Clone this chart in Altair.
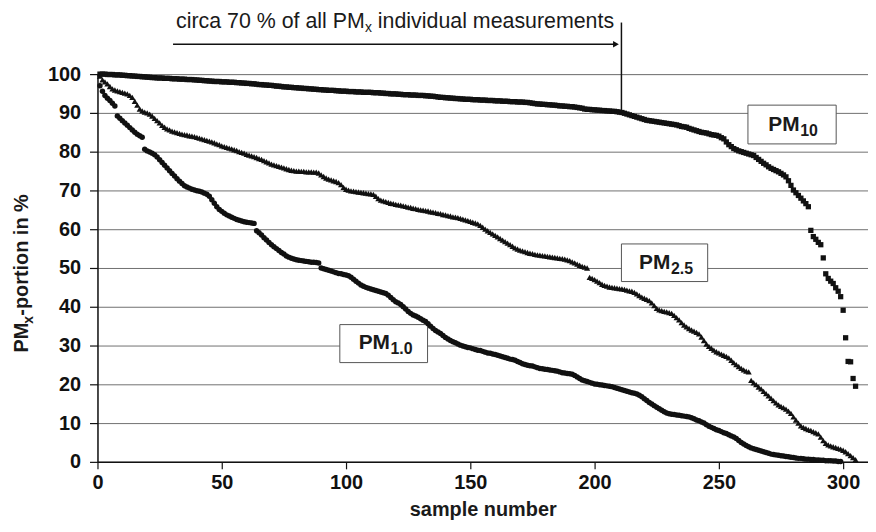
import altair as alt
import pandas as pd

# ---------------- data ----------------
pm10 = [
    100.0, 100.0, 100.0, 99.9, 99.9, 99.9, 99.8, 99.8, 99.8, 99.7,
    99.7, 99.6, 99.6, 99.5, 99.5, 99.4, 99.4, 99.3, 99.3, 99.2,
    99.2, 99.1, 99.1, 99.0, 99.0, 99.0, 98.9, 98.9, 98.9, 98.8,
    98.8, 98.8, 98.7, 98.7, 98.7, 98.6, 98.6, 98.6, 98.5, 98.5,
    98.4, 98.4, 98.3, 98.3, 98.2, 98.2, 98.1, 98.1, 98.1, 98.0,
    98.0, 98.0, 97.9, 97.9, 97.9, 97.8, 97.8, 97.7, 97.7, 97.6,
    97.6, 97.5, 97.5, 97.4, 97.3, 97.3, 97.2, 97.2, 97.1, 97.1,
    97.0, 96.9, 96.9, 96.8, 96.7, 96.7, 96.6, 96.6, 96.5, 96.5,
    96.4, 96.4, 96.3, 96.3, 96.2, 96.2, 96.1, 96.1, 96.0, 96.0,
    95.9, 95.9, 95.8, 95.8, 95.8, 95.7, 95.7, 95.6, 95.6, 95.6,
    95.5, 95.5, 95.5, 95.4, 95.4, 95.4, 95.3, 95.3, 95.3, 95.3,
    95.2, 95.2, 95.2, 95.1, 95.1, 95.0, 95.0, 94.9, 94.9, 94.9,
    94.8, 94.8, 94.7, 94.7, 94.7, 94.6, 94.6, 94.6, 94.5, 94.5,
    94.5, 94.4, 94.4, 94.3, 94.3, 94.2, 94.1, 94.0, 94.0, 93.9,
    93.9, 93.8, 93.8, 93.7, 93.7, 93.6, 93.6, 93.5, 93.5, 93.5,
    93.4, 93.4, 93.4, 93.3, 93.3, 93.3, 93.2, 93.2, 93.2, 93.1,
    93.1, 93.1, 93.0, 93.0, 93.0, 92.9, 92.9, 92.9, 92.8, 92.8,
    92.8, 92.7, 92.7, 92.6, 92.5, 92.4, 92.3, 92.3, 92.2, 92.2,
    92.1, 92.1, 92.0, 92.0, 91.9, 91.8, 91.8, 91.7, 91.7, 91.6,
    91.6, 91.5, 91.4, 91.3, 91.2, 91.0, 90.9, 90.9, 90.8, 90.8,
    90.7, 90.7, 90.6, 90.6, 90.5, 90.5, 90.4, 90.4, 90.3, 90.2,
    90.1, 89.9, 89.7, 89.5, 89.3, 89.1, 88.9, 88.7, 88.5, 88.3,
    88.1, 88.0, 87.9, 87.8, 87.7, 87.6, 87.5, 87.4, 87.3, 87.2,
    87.1, 87.0, 86.9, 86.7, 86.5, 86.4, 86.3, 86.0, 85.8, 85.6,
    85.4, 85.2, 85.0, 84.9, 84.8, 84.6, 84.4, 84.3, 84.2, 84.0,
    83.6, 83.3, 82.5, 81.8, 81.3, 80.8, 80.5, 80.2, 80.0, 79.8,
    79.6, 79.4, 79.2, 79.0, 78.5, 78.0, 77.5, 77.0, 76.6, 76.1,
    75.7, 75.4, 75.1, 74.8, 74.4, 74.0, 73.5, 72.5, 71.3, 70.1,
    69.4, 68.7, 68.0, 67.3, 66.6, 65.8,
    59.7, 58.1, 57.4, 56.6, 56.0, 52.6, 48.5, 47.3, 46.6, 46.0,
    44.9, 44.0, 42.6, 39.1, 32.0, 25.9, 25.8, 21.5, 19.5,
]

pm25 = [
    99.5, 98.5, 98.0, 97.5, 96.8, 96.2, 95.9, 95.7, 95.5, 95.3,
    95.1, 94.9, 94.5, 94.0, 93.0, 92.0, 91.0, 90.5, 90.2, 90.0,
    89.7, 89.2, 88.6, 88.0, 87.4, 86.8, 86.3, 85.9, 85.6, 85.3,
    85.1, 84.9, 84.7, 84.5, 84.4, 84.3, 84.1, 84.0, 83.9, 83.7,
    83.5, 83.3, 83.1, 82.9, 82.7, 82.5, 82.3, 82.0, 81.8, 81.5,
    81.3, 81.1, 80.9, 80.7, 80.5, 80.3, 80.0, 79.8, 79.6, 79.3,
    79.1, 78.9, 78.7, 78.5, 78.2, 78.0, 77.7, 77.4, 77.1, 76.8,
    76.6, 76.4, 76.2, 76.0, 75.8, 75.6, 75.4, 75.2, 75.1, 75.0,
    75.0, 74.9, 74.9, 74.8, 74.8, 74.8, 74.7, 74.7, 74.5, 74.0,
    73.6, 73.2, 72.9, 72.7, 72.5, 72.3, 72.0, 71.5, 70.8, 70.3,
    70.1, 69.9, 69.8, 69.7, 69.6, 69.5, 69.4, 69.3, 69.2, 69.1,
    69.0, 68.5, 67.9, 67.5, 67.3, 67.1, 66.9, 66.7, 66.6, 66.4,
    66.3, 66.2, 66.0, 65.9, 65.7, 65.6, 65.4, 65.3, 65.1, 65.0,
    64.9, 64.8, 64.7, 64.5, 64.4, 64.3, 64.1, 64.0, 63.8, 63.7,
    63.5, 63.4, 63.2, 63.1, 63.0, 62.8, 62.6, 62.4, 62.2, 62.0,
    61.8, 61.6, 61.4, 61.0, 60.5, 60.0, 59.6, 59.2, 58.8, 58.4,
    58.0, 57.6, 57.2, 56.8, 56.4, 56.0, 55.6, 55.2, 54.9, 54.6,
    54.4, 54.2, 54.0, 53.8, 53.7, 53.5, 53.4, 53.3, 53.2, 53.1,
    53.0, 52.9, 52.8, 52.7, 52.6, 52.5, 52.4, 52.3, 52.1, 51.9,
    51.6, 51.3, 51.0, 50.7, 50.4, 50.2, 50.0, 47.6, 47.3, 47.0,
    46.6, 46.2, 45.8, 45.5, 45.3, 45.1, 45.0, 44.9, 44.8, 44.7,
    44.6, 44.5, 44.3, 44.1, 44.0, 43.7, 43.3, 42.9, 42.5, 42.2,
    41.9, 41.6, 41.0, 40.3, 39.6, 39.2, 39.0, 38.8, 38.7, 38.5,
    38.3, 37.8, 37.2, 36.6, 35.9, 35.3, 34.8, 34.4, 34.0, 33.7,
    33.4, 33.0, 32.2, 31.3, 30.4, 29.8, 29.3, 28.8, 28.4, 28.1,
    27.8, 27.5, 27.2, 26.8, 26.2, 25.6, 25.1, 24.6, 24.1, 23.7,
    23.4, 23.2, 21.0, 20.4, 19.9, 19.3, 18.8, 18.2, 17.6, 17.0,
    16.4, 15.8, 15.2, 14.7, 14.3, 14.0, 13.6, 13.1, 12.5, 11.6,
    10.8, 10.0, 9.3, 8.9, 8.6, 8.3, 8.1, 7.8, 7.5, 7.2,
    6.4, 5.5, 4.8, 4.4, 4.1, 3.9, 3.7, 3.5, 3.3, 3.0,
    2.6, 2.1, 1.6, 1.1, 0.6,
]

pm1 = [
    97.0, 95.6, 94.5, 93.8, 93.2, 92.5, 91.8, 89.2, 88.6, 88.0,
    87.4, 86.8, 86.2, 85.6, 85.0, 84.5, 84.1, 83.7, 80.6, 80.2,
    79.9, 79.6, 79.2, 78.6, 77.9, 77.2, 76.5, 75.8, 75.1, 74.4,
    73.7, 73.0, 72.4, 71.8, 71.2, 70.9, 70.6, 70.3, 70.1, 69.9,
    69.8, 69.6, 69.3, 69.0, 68.5, 67.6, 66.7, 65.8, 65.1, 64.6,
    64.1, 63.7, 63.4, 63.1, 62.8, 62.5, 62.3, 62.1, 61.9, 61.8,
    61.7, 61.6, 61.5, 59.6, 59.1, 58.5, 57.8, 57.2, 56.6, 56.0,
    55.5, 55.0, 54.5, 54.0, 53.6, 53.1, 52.8, 52.5, 52.3, 52.1,
    52.0, 51.9, 51.8, 51.7, 51.6, 51.5, 51.5, 51.4, 51.3, 50.0,
    49.8, 49.6, 49.4, 49.2, 49.0, 48.8, 48.6, 48.5, 48.3, 48.2,
    48.0, 47.6, 47.1, 46.6, 46.1, 45.6, 45.3, 45.0, 44.8, 44.6,
    44.4, 44.2, 44.0, 43.8, 43.6, 43.4, 43.0, 42.4, 41.8, 41.3,
    41.0, 40.6, 40.0, 39.4, 38.8, 38.3, 37.9, 37.6, 37.3, 36.9,
    36.5, 36.2, 35.6, 35.0, 34.4, 33.9, 33.5, 33.1, 32.6, 32.1,
    31.7, 31.3, 31.0, 30.7, 30.4, 30.1, 29.9, 29.7, 29.5, 29.4,
    29.2, 29.0, 28.8, 28.7, 28.5, 28.3, 28.1, 28.0, 27.8, 27.7,
    27.5, 27.3, 27.1, 26.9, 26.7, 26.5, 26.4, 26.2, 25.9, 25.6,
    25.3, 25.1, 24.9, 24.8, 24.7, 24.5, 24.3, 24.1, 24.0, 23.9,
    23.8, 23.7, 23.6, 23.5, 23.4, 23.2, 23.0, 22.9, 22.8, 22.7,
    22.6, 22.3, 21.9, 21.5, 21.1, 20.9, 20.7, 20.5, 20.3, 20.1,
    20.0, 19.9, 19.8, 19.7, 19.6, 19.5, 19.4, 19.2, 19.0, 18.8,
    18.6, 18.4, 18.2, 18.0, 17.8, 17.7, 17.5, 17.2, 16.8, 16.3,
    15.8, 15.3, 14.9, 14.5, 14.1, 13.7, 13.3, 12.9, 12.6, 12.4,
    12.3, 12.2, 12.1, 12.0, 11.9, 11.8, 11.7, 11.6, 11.4, 11.1,
    10.8, 10.6, 10.3, 10.0, 9.6, 9.2, 8.9, 8.6, 8.3, 8.1,
    7.8, 7.5, 7.3, 7.0, 6.7, 6.4, 6.0, 5.5, 5.0, 4.6,
    4.2, 3.9, 3.6, 3.4, 3.2, 3.0, 2.8, 2.6, 2.4, 2.2,
    2.0, 1.9, 1.8, 1.7, 1.6, 1.5, 1.4, 1.3, 1.2, 1.1,
    1.0, 0.9, 0.9, 0.8, 0.7, 0.7, 0.6, 0.6, 0.5, 0.5,
    0.4, 0.4, 0.3, 0.3, 0.3, 0.2, 0.2, 0.1, 0.1,
]

x_ticks = [0, 50, 100, 150, 200, 250, 300]
y_ticks = [0, 10, 20, 30, 40, 50, 60, 70, 80, 90, 100]

# label boxes (data coordinates) and their texts
box_names = ["PM10", "PM2.5", "PM1.0"]
box_x0 = [261.7, 210.8, 97.5]
box_x1 = [297.2, 245.5, 132.8]
box_y0 = [82.0, 46.5, 25.6]
box_y1 = [92.0, 56.2, 35.4]
label_main = ["PM", "PM", "PM"]
label_sub = ["10", "2.5", "1.0"]
label_x = [269.9, 217.9, 105.1]
label_y = [85.4, 49.7, 29.0]

# annotation "circa 70 %"
ann_x, ann_y = 31.6, 111.8
arrow_x0, arrow_x1, arrow_y = 30.4, 208.6, 107.7
mark_x, mark_top, mark_bottom = 210.8, 113.3, 90.1


def frame(vals, name):
    return pd.DataFrame({"sample": list(range(1, len(vals) + 1)),
                         "portion": vals, "series": name})


df10, df25, df1 = frame(pm10, "PM10"), frame(pm25, "PM2.5"), frame(pm1, "PM1.0")

FONT = "Liberation Sans"
BLACK = "#111111"

x_scale = alt.Scale(domain=[0, 310], nice=False, zero=False)
y_scale = alt.Scale(domain=[0, 100], nice=False)

x_axis = alt.Axis(values=x_ticks, title="", grid=False, labelFontSize=20,
                  labelFontWeight="bold", labelFont=FONT, labelColor=BLACK,
                  tickSize=7, tickColor=BLACK, domainColor=BLACK,
                  domainWidth=1.5, tickWidth=1.2, labelPadding=4,
                  labelFlush=False, labelOverlap=False)
y_axis = alt.Axis(values=y_ticks, title="", grid=True, gridColor="#707070",
                  gridWidth=1, labelFontSize=20, labelFontWeight="bold",
                  labelFont=FONT, labelColor=BLACK, tickSize=8,
                  tickColor=BLACK, domainColor=BLACK, domainWidth=1.5,
                  tickWidth=1.2, labelPadding=9, labelOverlap=False)


def xq(field):
    return alt.X(field, scale=x_scale, axis=x_axis)


def yq(field):
    return alt.Y(field, scale=y_scale, axis=y_axis)


boxes = pd.DataFrame({"name": box_names, "x0": box_x0, "x1": box_x1,
                      "y0": box_y0, "y1": box_y1})
rects = alt.Chart(boxes).mark_rect(fill="white", stroke="#555555",
                                   strokeWidth=1).encode(
    x=xq("x0:Q"), x2="x1:Q", y=yq("y0:Q"), y2="y1:Q")

p10 = alt.Chart(df10).mark_point(shape="square", filled=True, size=28,
                                 color=BLACK, opacity=1).encode(
    x=xq("sample:Q"), y=yq("portion:Q"))
p25 = alt.Chart(df25).mark_point(shape="triangle-up", filled=True, size=38,
                                 color=BLACK, opacity=1).encode(
    x=xq("sample:Q"), y=yq("portion:Q"))
p1 = alt.Chart(df1).mark_point(shape="circle", filled=True, size=30,
                               color=BLACK, opacity=1).encode(
    x=xq("sample:Q"), y=yq("portion:Q"))

labels = pd.DataFrame({"main": label_main, "sub": label_sub,
                       "lx": label_x, "ly": label_y})
lab_main = alt.Chart(labels).mark_text(font=FONT, fontSize=21,
                                       fontWeight="bold", align="left",
                                       baseline="alphabetic",
                                       color="#1a1a1a").encode(
    x=xq("lx:Q"), y=yq("ly:Q"), text="main:N")
lab_sub = alt.Chart(labels).mark_text(font=FONT, fontSize=16,
                                      fontWeight="bold", align="left",
                                      baseline="alphabetic", dx=32, dy=5,
                                      color="#1a1a1a").encode(
    x=xq("lx:Q"), y=yq("ly:Q"), text="sub:N")

ann = pd.DataFrame({"ax": [ann_x], "ay": [ann_y],
                    "t1": ["circa 70 % of all PM"], "t2": ["x"],
                    "t3": ["individual measurements"],
                    "rx0": [arrow_x0], "rx1": [arrow_x1], "ry": [arrow_y],
                    "vx": [mark_x], "vt": [mark_top], "vb": [mark_bottom]})
ann_t1 = alt.Chart(ann).mark_text(font=FONT, fontSize=21.5, align="left",
                                  baseline="alphabetic", color="#1a1a1a").encode(
    x=xq("ax:Q"), y=yq("ay:Q"), text="t1:N")
ann_t2 = alt.Chart(ann).mark_text(font=FONT, fontSize=14, align="left",
                                  baseline="alphabetic", dx=190, dy=4,
                                  color="#1a1a1a").encode(
    x=xq("ax:Q"), y=yq("ay:Q"), text="t2:N")
ann_t3 = alt.Chart(ann).mark_text(font=FONT, fontSize=21.5, align="left",
                                  baseline="alphabetic", dx=203,
                                  color="#1a1a1a").encode(
    x=xq("ax:Q"), y=yq("ay:Q"), text="t3:N")
arrow_line = alt.Chart(ann).mark_rule(color=BLACK, strokeWidth=1.5).encode(
    x=xq("rx0:Q"), x2="rx1:Q", y=yq("ry:Q"))
arrow_head = alt.Chart(ann).mark_point(shape="triangle-right", filled=True,
                                       size=45, color=BLACK, opacity=1).encode(
    x=xq("rx1:Q"), y=yq("ry:Q"))
v_line = alt.Chart(ann).mark_rule(color=BLACK, strokeWidth=1.5).encode(
    x=xq("vx:Q"), y=yq("vt:Q"), y2="vb:Q")

# axis titles as text marks (pixel positions relative to the plot area)
titles = pd.DataFrame({"a": ["sample number"], "p1": ["PM"], "p2": ["x"],
                       "p3": ["-portion in %"]})
x_title = alt.Chart(titles).mark_text(font=FONT, fontSize=20,
                                      fontWeight="bold", align="center",
                                      baseline="alphabetic",
                                      color="#1a1a1a").encode(
    x=alt.value(388), y=alt.value(444), text="a:N")
y_t1 = alt.Chart(titles).mark_text(font=FONT, fontSize=20, fontWeight="bold",
                                   align="left", baseline="alphabetic",
                                   angle=270, color="#1a1a1a").encode(
    x=alt.value(-70), y=alt.value(280), text="p1:N")
y_t2 = alt.Chart(titles).mark_text(font=FONT, fontSize=14, fontWeight="bold",
                                   align="left", baseline="alphabetic",
                                   angle=270, color="#1a1a1a").encode(
    x=alt.value(-65), y=alt.value(251), text="p2:N")
y_t3 = alt.Chart(titles).mark_text(font=FONT, fontSize=20, fontWeight="bold",
                                   align="left", baseline="alphabetic",
                                   angle=270, color="#1a1a1a").encode(
    x=alt.value(-70), y=alt.value(243), text="p3:N")

chart = alt.layer(
    rects, p10, p25, p1, lab_main, lab_sub,
    arrow_line, arrow_head, v_line, ann_t1, ann_t2, ann_t3,
    x_title, y_t1, y_t2, y_t3,
).properties(
    width=775, height=390,
    autosize=alt.AutoSizeParams(type="none"),
    padding={"left": 90, "top": 65, "right": 0, "bottom": 60},
).configure_view(strokeWidth=0).configure(font=FONT)

chart.save("out.html", embed_options={"renderer": "svg", "actions": False})
